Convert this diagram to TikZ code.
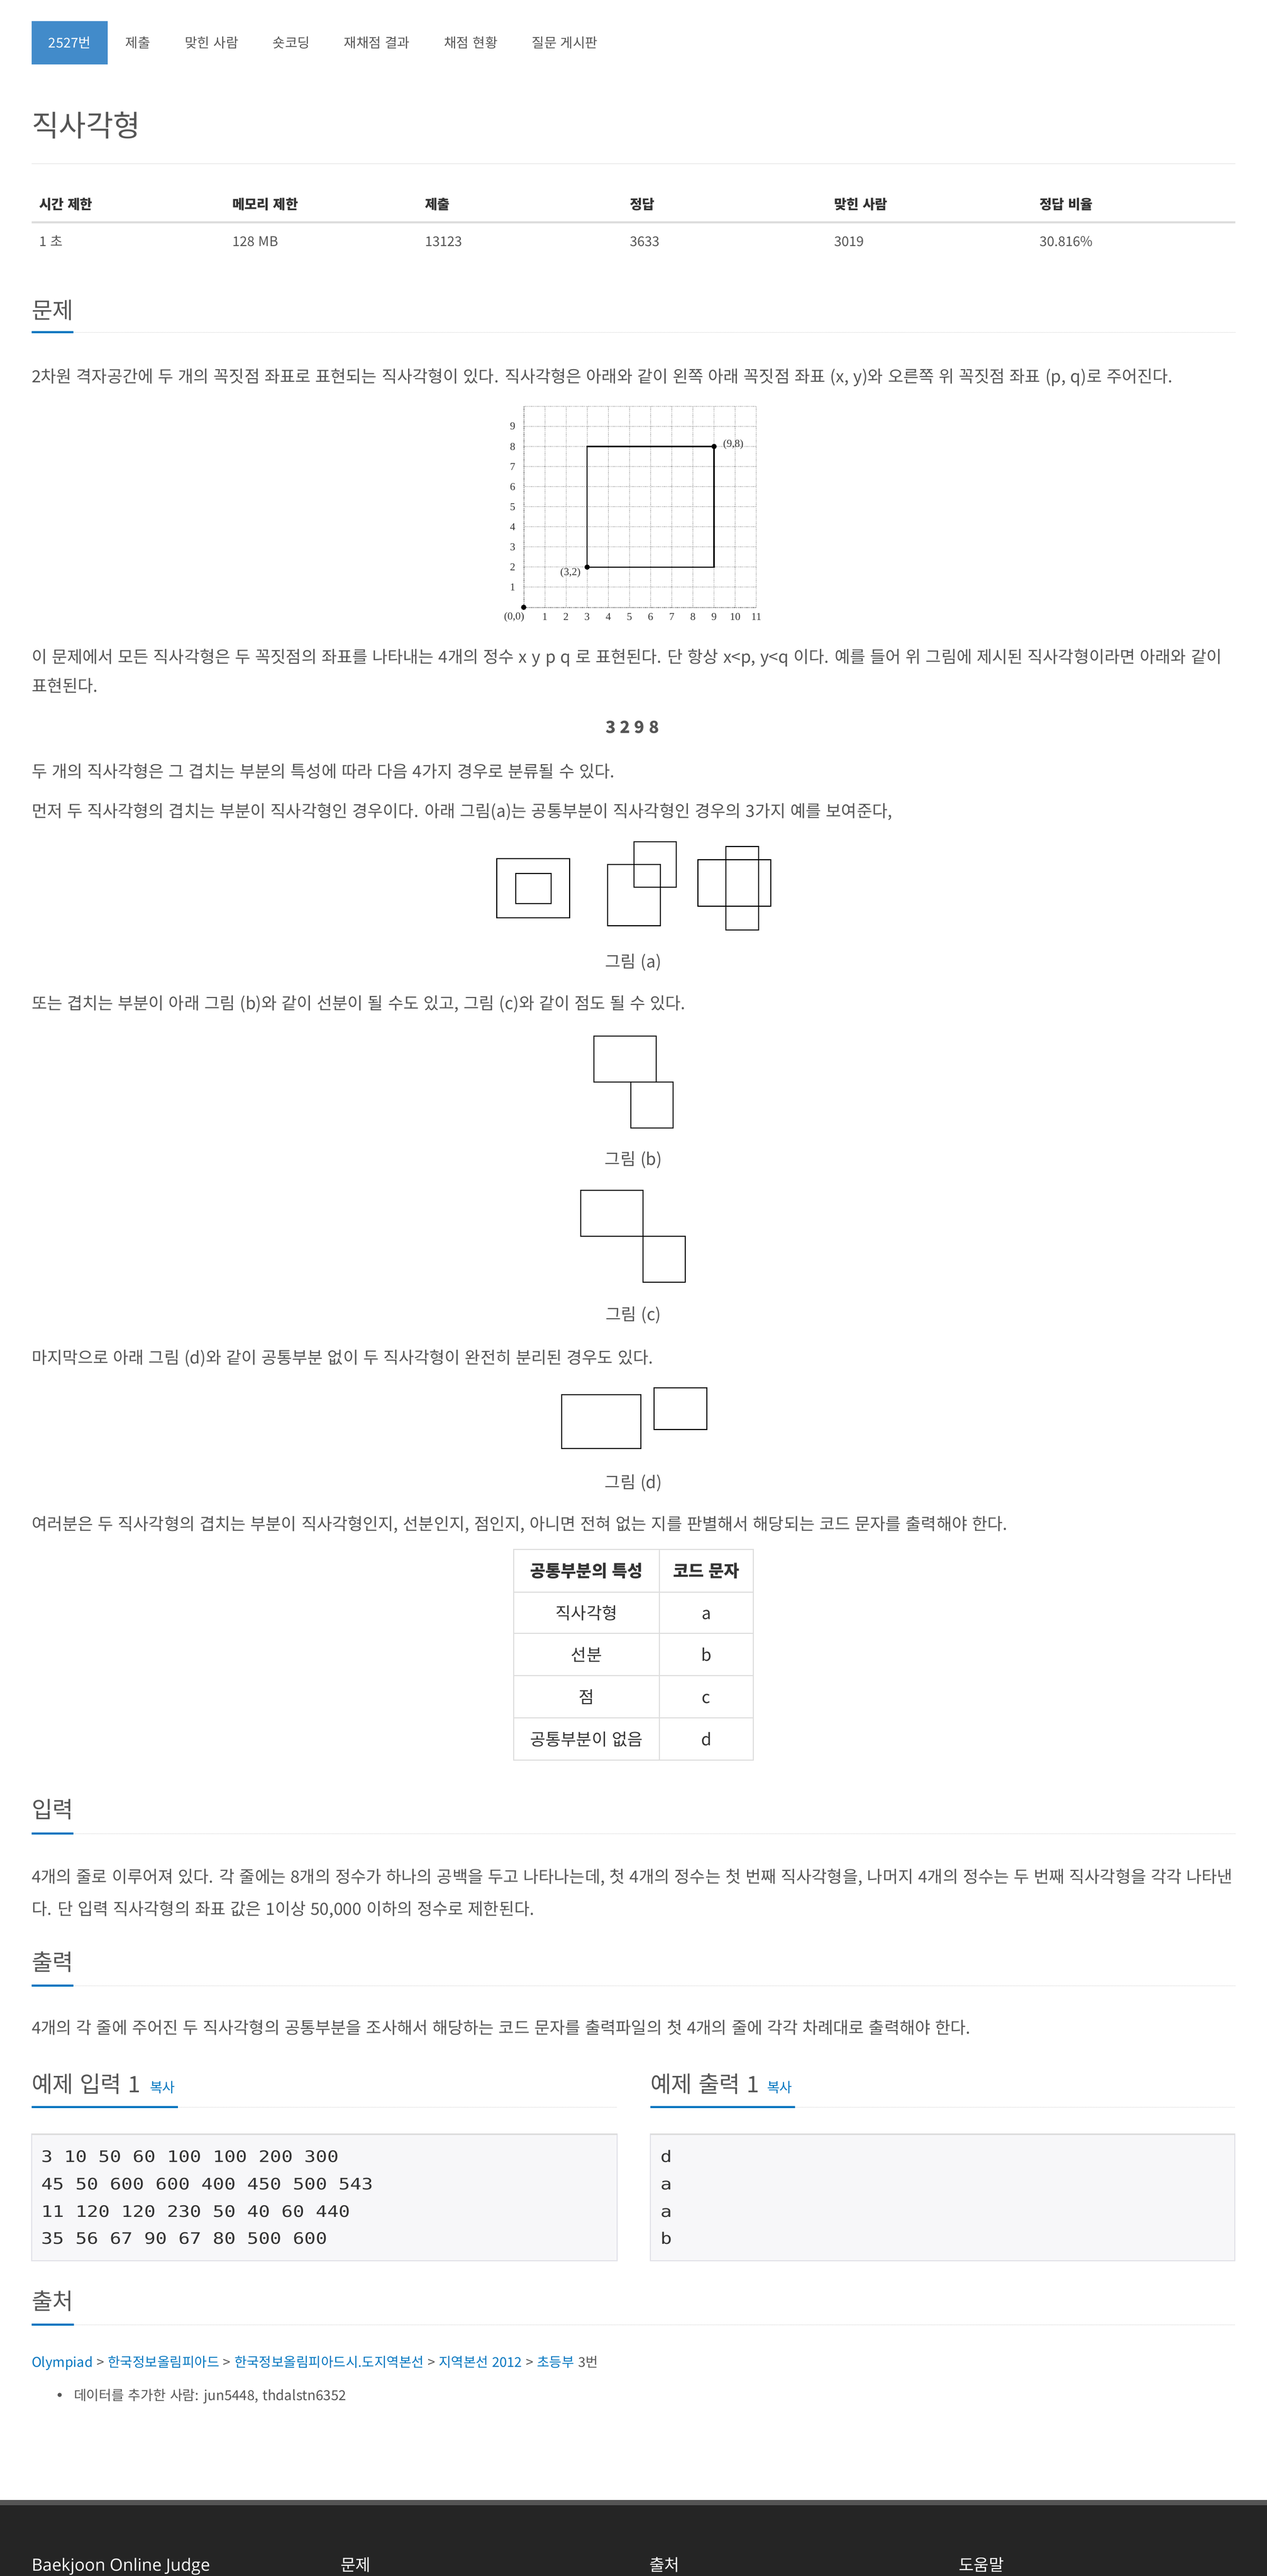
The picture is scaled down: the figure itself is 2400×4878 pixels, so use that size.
\documentclass[tikz,border=0pt]{standalone}
\usepackage{fontspec}
\setmainfont[WordSpace=1.25]{Noto Sans CJK KR}
\newfontfamily\opensans{Open Sans}
\newfontfamily\monof[FakeStretch=1.2]{DejaVu Sans Mono}
\newfontfamily\seriff{Liberation Serif}
\newcommand\fsz[1]{\fontsize{#1}{#1}\selectfont}
\definecolor{bodyc}{HTML}{555555}
\definecolor{darkc}{HTML}{333333}
\definecolor{headc}{HTML}{555555}
\definecolor{tabc}{HTML}{428BCA}
\definecolor{linkc}{HTML}{0076C0}
\definecolor{hrc}{HTML}{EEEEEE}
\definecolor{linec}{HTML}{DDDDDD}
\definecolor{dotc}{HTML}{CCCCCC}
\definecolor{preb}{HTML}{F7F7F9}
\definecolor{prel}{HTML}{E1E1E8}
\definecolor{footg}{HTML}{555555}
\definecolor{footd}{HTML}{252525}
\definecolor{gridc}{HTML}{888888}
\begin{document}
\begin{tikzpicture}[x=1pt,y=-1pt,
  every node/.style={inner sep=0pt, outer sep=0pt},
  txt/.style={anchor=base west, font=\fsz{31.7}, text=bodyc},
  ctxt/.style={anchor=base, font=\fsz{31.7}, text=bodyc},
  nav/.style={anchor=base, font=\fsz{25.5}, text=headc},
  head/.style={anchor=base west, font=\fsz{43}, text=headc},
  stat/.style={anchor=base west, font=\fsz{25.5}, text=bodyc},
  stath/.style={anchor=base west, font=\fsz{25.5}\bfseries, text=darkc},
  figcap/.style={anchor=base, font=\fsz{31.7}, text=headc},
  tcell/.style={anchor=base, font=\fsz{31.7}, text=darkc},
  tcellh/.style={anchor=base, font=\fsz{31.7}\bfseries, text=darkc},
  codet/.style={anchor=base west, font=\monof\fsz{30}, text=darkc},
  figr/.style={draw=black, line width=2pt},
  blueline/.style={draw=linkc, line width=4.5pt},
  dotline/.style={draw=dotc, line width=1pt, dash pattern=on 1pt off 1pt},
  gridl/.style={draw=gridc, line width=1pt, dash pattern=on 1.2pt off 1.2pt},
  glab/.style={font=\seriff\fsz{20}, text=darkc},
  tbl/.style={draw=linec, line width=2pt},
  foot/.style={anchor=base west, font=\fsz{31}, text=white},
]
\useasboundingbox (0,0) rectangle (2400,4878);
\fill[white] (0,0) rectangle (2400,4878);

% ---------- nav ----------
\node[fill=tabc, minimum width=144pt, minimum height=82pt, anchor=north west] (tab) at (60,40) {};
\node[nav, text=white] (tabt) at (132,90) {2527번};
\node[nav] (n1) at (261,90) {제출};
\node[nav] (n2) at (401,90) {맞힌 사람};
\node[nav] (n3) at (552,90) {숏코딩};
\node[nav] (n4) at (714,90) {재채점 결과};
\node[nav] (n5) at (892,90) {채점 현황};
\node[nav] (n6) at (1070,90) {질문 게시판};

% ---------- title ----------
\node[anchor=base west, font=\fsz{56}, text=headc] (title) at (60,258) {직사각형};
\draw[hrc, line width=2pt] (60,310) -- (2340,310);

% ---------- stats table ----------
\node[stath] (sh1) at (74,396) {시간 제한};
\node[stath] (sh2) at (440,396) {메모리 제한};
\node[stath] (sh3) at (805,396) {제출};
\node[stath] (sh4) at (1193,396) {정답};
\node[stath] (sh5) at (1580,396) {맞힌 사람};
\node[stath] (sh6) at (1969,396) {정답 비율};
\draw[linec, line width=4pt] (60,421) -- (2340,421);
\node[stat] (sv1) at (74,466) {1 초};
\node[stat] (sv2) at (440,466) {128 MB};
\node[stat] (sv3) at (805,466) {13123};
\node[stat] (sv4) at (1193,466) {3633};
\node[stat] (sv5) at (1580,466) {3019};
\node[stat] (sv6) at (1969,466) {30.816\%};

% ---------- 문제 ----------
\node[head] (hprob) at (60,603) {문제};
\draw[dotline] (139,629) -- (2340,629);
\draw[blueline] (60,629) -- (139,629);
\node[txt] (p1) at (60,724) {2차원 격자공간에 두 개의 꼭짓점 좌표로 표현되는 직사각형이 있다. 직사각형은 아래와 같이 왼쪽 아래 꼭짓점 좌표 (x, y)와 오른쪽 위 꼭짓점 좌표 (p, q)로 주어진다.};

% ---------- grid figure ----------
\begin{scope}[shift={(992,1150)}, x=40.07pt, y=38.07pt]
  \foreach \i in {1,...,11} \draw[gridl] (\i,0) -- (\i,10);
  \foreach \j in {1,...,10} \draw[gridl] (0,\j) -- (11,\j);
  \draw[gridl, draw=black] (0,0) -- (0,10);
  \draw[gridl, draw=black] (0,0) -- (11,0);
  \foreach \j in {1,...,9} \node[glab] (gy\j) at (-0.52,\j) {\j};
  \foreach \i in {1,...,11} \node[glab] (gx\i) at (\i,-0.48) {\i};
  \node[glab] (g00) at (-0.45,-0.48) {(0,0)};
  \draw[black, line width=2.5pt] (3,2) rectangle (9,8);
  \fill[black] (0,0) circle[radius=5pt];
  \fill[black] (3,2) circle[radius=5pt];
  \fill[black] (9,8) circle[radius=5pt];
  \node[glab] (g32) at (2.21,1.71) {(3,2)};
  \node[glab] (g98) at (9.91,8.1) {(9,8)};
\end{scope}

\node[txt] (p2a) at (60,1255) {이 문제에서 모든 직사각형은 두 꼭짓점의 좌표를 나타내는 4개의 정수 x y p q 로 표현된다. 단 항상 x<p, y<q 이다. 예를 들어 위 그림에 제시된 직사각형이라면 아래와 같이};
\node[txt] (p2b) at (60,1310) {표현된다.};
\node[ctxt, font=\fsz{31.7}\bfseries] (ex) at (1198,1388) {3\hspace{8pt}2\hspace{8pt}9\hspace{8pt}8};
\node[txt] (p3) at (60,1472) {두 개의 직사각형은 그 겹치는 부분의 특성에 따라 다음 4가지 경우로 분류될 수 있다.};
\node[txt] (p4) at (60,1547) {먼저 두 직사각형의 겹치는 부분이 직사각형인 경우이다. 아래 그림(a)는 공통부분이 직사각형인 경우의 3가지 예를 보여준다,};

% ---------- figure (a) ----------
\draw[figr] (941.3,1626) rectangle (1079.1,1738.3);
\draw[figr] (976.9,1654) rectangle (1043.5,1711);
\draw[figr] (1151.4,1637.3) rectangle (1250.6,1752.7);
\draw[figr] (1201.2,1594) rectangle (1280.8,1680.3);
\draw[figr] (1321.7,1627.7) rectangle (1459.5,1716);
\draw[figr] (1374.9,1602.7) rectangle (1437.3,1761.3);
\node[figcap] (capa) at (1200,1832) {그림 (a)};

\node[txt] (p5) at (60,1911) {또는 겹치는 부분이 아래 그림 (b)와 같이 선분이 될 수도 있고, 그림 (c)와 같이 점도 될 수 있다.};

% ---------- figure (b) ----------
\draw[figr] (1125,1962) rectangle (1243,2048.7);
\draw[figr] (1195,2048.7) rectangle (1275.3,2136);
\node[figcap] (capb) at (1200,2206) {그림 (b)};

% ---------- figure (c) ----------
\draw[figr] (1100,2254.2) rectangle (1218,2340.9);
\draw[figr] (1218,2340.9) rectangle (1297.7,2428.1);
\node[figcap] (capc) at (1200,2500) {그림 (c)};

\node[txt] (p6) at (60,2582) {마지막으로 아래 그림 (d)와 같이 공통부분 없이 두 직사각형이 완전히 분리된 경우도 있다.};

% ---------- figure (d) ----------
\draw[figr] (1064,2640.5) rectangle (1214,2742.7);
\draw[figr] (1238.7,2627.9) rectangle (1338.7,2707.1);
\node[figcap] (capd) at (1200,2818) {그림 (d)};

\node[txt] (p7) at (60,2897) {여러분은 두 직사각형의 겹치는 부분이 직사각형인지, 선분인지, 점인지, 아니면 전혀 없는 지를 판별해서 해당되는 코드 문자를 출력해야 한다.};

% ---------- code table ----------
\draw[tbl] (972.7,2934) rectangle (1427.4,3333);
\draw[tbl] (1249,2934) -- (1249,3333);
\draw[tbl] (972.7,3015) -- (1427.4,3015);
\draw[tbl] (972.7,3093) -- (1427.4,3093);
\draw[tbl] (972.7,3173) -- (1427.4,3173);
\draw[tbl] (972.7,3253) -- (1427.4,3253);
\node[tcellh] (th1) at (1111,2986) {공통부분의 특성};
\node[tcellh] (th2) at (1338,2986) {코드 문자};
\node[tcell] (r1a) at (1111,3066) {직사각형};
\node[tcell] (r1b) at (1338,3066) {a};
\node[tcell] (r2a) at (1111,3145) {선분};
\node[tcell] (r2b) at (1338,3145) {b};
\node[tcell] (r3a) at (1111,3225) {점};
\node[tcell] (r3b) at (1338,3225) {c};
\node[tcell] (r4a) at (1111,3305) {공통부분이 없음};
\node[tcell] (r4b) at (1338,3305) {d};

% ---------- 입력 ----------
\node[head] (hin) at (60,3442) {입력};
\draw[dotline] (139,3472) -- (2340,3472);
\draw[blueline] (60,3472) -- (139,3472);
\node[txt] (in1) at (60,3565) {4개의 줄로 이루어져 있다. 각 줄에는 8개의 정수가 하나의 공백을 두고 나타나는데, 첫 4개의 정수는 첫 번째 직사각형을, 나머지 4개의 정수는 두 번째 직사각형을 각각 나타낸};
\node[txt] (in2) at (60,3626) {다. 단 입력 직사각형의 좌표 값은 1이상 50,000 이하의 정수로 제한된다.};

% ---------- 출력 ----------
\node[head] (hout) at (60,3731) {출력};
\draw[dotline] (139,3760) -- (2340,3760);
\draw[blueline] (60,3760) -- (139,3760);
\node[txt] (out1) at (60,3851) {4개의 각 줄에 주어진 두 직사각형의 공통부분을 조사해서 해당하는 코드 문자를 출력파일의 첫 4개의 줄에 각각 차례대로 출력해야 한다.};

% ---------- examples ----------
\node[head] (hex1) at (60,3962) {예제 입력 1};
\node[anchor=base west, font=\fsz{26}, text=linkc] (cp1) at (284,3962) {복사};
\draw[dotline] (337,3990) -- (1169,3990);
\draw[blueline] (60,3990) -- (337,3990);
\node[head] (hex2) at (1232,3962) {예제 출력 1};
\node[anchor=base west, font=\fsz{26}, text=linkc] (cp2) at (1453,3962) {복사};
\draw[dotline] (1506,3990) -- (2339,3990);
\draw[blueline] (1232,3990) -- (1506,3990);

\draw[fill=preb, draw=prel, line width=2pt] (60,4041) rectangle (1169,4281);
\draw[linec, line width=3pt] (60,4041) -- (1169,4041);
\draw[fill=preb, draw=prel, line width=2pt] (1232,4041) rectangle (2339,4281);
\draw[linec, line width=3pt] (1232,4041) -- (2339,4041);
\node[codet] (ci1) at (78,4094) {3 10 50 60 100 100 200 300};
\node[codet] (ci2) at (78,4146) {45 50 600 600 400 450 500 543};
\node[codet] (ci3) at (78,4198) {11 120 120 230 50 40 60 440};
\node[codet] (ci4) at (78,4249) {35 56 67 90 67 80 500 600};
\node[codet] (co1) at (1251,4094) {d};
\node[codet] (co2) at (1251,4146) {a};
\node[codet] (co3) at (1251,4198) {a};
\node[codet] (co4) at (1251,4249) {b};

% ---------- 출처 ----------
\node[head] (hsrc) at (60,4373) {출처};
\draw[dotline] (140,4402) -- (2340,4402);
\draw[blueline] (60,4402) -- (140,4402);
\node[anchor=base west, font=\fsz{25.5}, text=headc] (crumb) at (60,4482) {{\color{linkc}Olympiad} > {\color{linkc}한국정보올림피아드} > {\color{linkc}한국정보올림피아드시.도지역본선} > {\color{linkc}지역본선 2012} > {\color{linkc}초등부} 3번};
\fill[headc] (113,4535) circle[radius=4pt];
\node[anchor=base west, font=\fsz{26}, text=headc] (adder) at (140,4545) {데이터를 추가한 사람: jun5448, thdalstn6352};

% ---------- footer ----------
\fill[footg] (0,4734) rectangle (2400,4744);
\fill[footd] (0,4744) rectangle (2400,4878);
\node[foot, font=\opensans\fsz{32}] (f1) at (60,4868) {Baekjoon Online Judge};
\node[foot] (f2) at (645,4868) {문제};
\node[foot] (f3) at (1230,4868) {출처};
\node[foot] (f4) at (1816,4868) {도움말};
\end{tikzpicture}
\end{document}
